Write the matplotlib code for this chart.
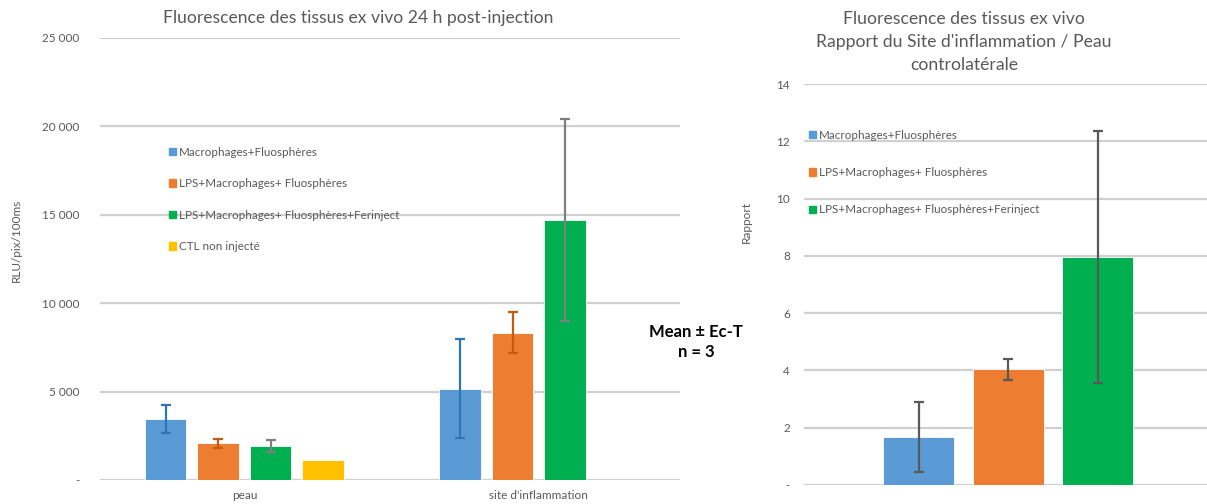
import matplotlib

matplotlib.use("Agg")
import matplotlib.pyplot as plt
import numpy as np
from matplotlib.patches import Patch

plt.rcParams["font.family"] = ["Lato", "DejaVu Sans"]

# --- data ---
SERIES = [
    "Macrophages+Fluosphères",
    "LPS+Macrophages+ Fluosphères",
    "LPS+Macrophages+ Fluosphères+Ferinject",
    "CTL non injecté",
]
COLORS = ["#5b9bd5", "#ed7d31", "#00b050", "#ffc000"]
ERR_COLORS = ["#2e75b6", "#c55a11", "#7f7f7f", "#7f7f7f"]

TISSUES = ["peau", "site d'inflammation"]
peau_mean = [3430, 2073, 1941, 1112]
peau_err = [790, 255, 330, 0]
site_mean = [5164, 8330, 14682]
site_err = [2790, 1170, 5710]

ratio_mean = [1.675, 4.04, 7.96]
ratio_err = [1.23, 0.37, 4.40]

LEFT_TICKS = [0, 5000, 10000, 15000, 20000, 25000]
LEFT_TICKLABELS = ["-", "5 000", "10 000", "15 000", "20 000", "25 000"]
RIGHT_TICKS = [0, 2, 4, 6, 8, 10, 12, 14]
RIGHT_TICKLABELS = ["-", "2", "4", "6", "8", "10", "12", "14"]

TXT = "#595959"
GRID = "#d0d0d0"

W, H = 1207, 504
fig = plt.figure(figsize=(W / 100, H / 100), dpi=100)


def px_axes(x0, y0, x1, y1):
    # pixel box (top-left origin) -> figure fraction axes
    return fig.add_axes([x0 / W, 1 - y1 / H, (x1 - x0) / W, (y1 - y0) / H])


def style(ax, ticks, labels, pad):
    for s in ax.spines.values():
        s.set_visible(False)
    ax.set_yticks(ticks)
    ax.set_yticklabels(labels, color=TXT, fontsize=8.5)
    ax.tick_params(axis="y", length=0, pad=pad)
    ax.tick_params(axis="x", length=0, pad=7, labelcolor=TXT, labelsize=8.5)
    ax.grid(axis="y", color=GRID, lw=1.6, zorder=0)
    ax.set_axisbelow(True)


# ---- left chart ----
ax1 = px_axes(100, 38, 680, 480)
pitch, width = 0.178, 0.141
all_means = [peau_mean, site_mean]
all_errs = [peau_err, site_err]
for gi, (means, errs) in enumerate(zip(all_means, all_errs)):
    for i, (m, e) in enumerate(zip(means, errs)):
        x = gi + (i - 1.5) * pitch
        ax1.bar(x, m, width, color=COLORS[i], zorder=2,
                edgecolor="white", linewidth=0.6)
        if e > 0:
            ax1.errorbar(x, m, yerr=e, fmt="none", ecolor=ERR_COLORS[i],
                         elinewidth=1.6, capsize=3.5, capthick=1.6, zorder=3)
ax1.set_xlim(-0.49, 1.479)
ax1.set_ylim(0, 25000)
ax1.set_xticks([0, 1])
ax1.set_xticklabels(TISSUES)
style(ax1, LEFT_TICKS, LEFT_TICKLABELS, pad=15)
ax1.set_ylabel("RLU/pix/100ms", color=TXT, fontsize=8.5)
ax1.yaxis.set_label_coords(-78 / 580, (480 - 240) / 442)
fig.text(358 / W, 1 - 18 / H, "Fluorescence des tissus ex vivo 24 h post-injection",
         ha="center", va="center", color=TXT, fontsize=12.6)

fig.legend(
    handles=[Patch(color=c, label=s) for c, s in zip(COLORS, SERIES)],
    loc="upper left", bbox_to_anchor=(163 / W, 1 - 141 / H),
    frameon=False, fontsize=8.4, labelcolor=TXT, handlelength=0.6,
    handleheight=0.6, handletextpad=0.3, labelspacing=1.75, borderpad=0,
)

# ---- right chart ----
ax2 = px_axes(804, 84, 1207, 485)
rx = np.arange(len(ratio_mean)) - 1
for i in range(len(ratio_mean)):
    ax2.bar(rx[i], ratio_mean[i], 0.79, color=COLORS[i], zorder=2,
            edgecolor="white", linewidth=0.6)
    ax2.errorbar(rx[i], ratio_mean[i], yerr=ratio_err[i], fmt="none",
                 ecolor="#595959", elinewidth=1.6, capsize=3.5, capthick=1.6, zorder=3)
ax2.set_xlim(-2.28, 2.22)
ax2.set_ylim(0, 14)
ax2.set_xticks([])
style(ax2, RIGHT_TICKS, RIGHT_TICKLABELS, pad=10)
ax2.set_ylabel("Rapport", color=TXT, fontsize=8.5)
ax2.yaxis.set_label_coords(-52 / 403, (485 - 222) / 401)
fig.text(964 / W, 1 - 42 / H,
         "Fluorescence des tissus ex vivo\nRapport du Site d'inflammation / Peau\ncontrolatérale",
         ha="center", va="center", color=TXT, fontsize=12.7, linespacing=1.52)

fig.legend(
    handles=[Patch(color=c, label=s) for c, s in zip(COLORS[:3], SERIES[:3])],
    loc="upper left", bbox_to_anchor=(803 / W, 1 - 124 / H),
    frameon=False, fontsize=8.4, labelcolor=TXT, handlelength=0.6,
    handleheight=0.6, handletextpad=0.3, labelspacing=2.25, borderpad=0,
)

fig.text(696 / W, 1 - 342 / H, "Mean ± Ec-T\nn = 3", ha="center", va="center",
         fontsize=12, fontweight="bold", color="black", linespacing=1.25)

fig.savefig("out.png", dpi=100, facecolor="white")
